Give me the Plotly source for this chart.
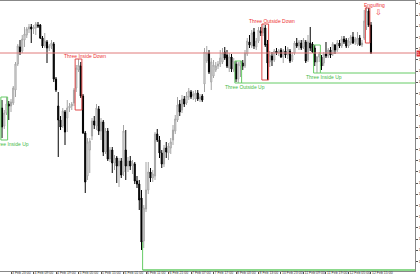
import plotly.graph_objects as go

# ---- OHLC data (H1 bars) ----
opens = [1.4692, 1.4674, 1.4687, 1.4696, 1.4694, 1.4697, 1.4710, 1.4736, 1.4753, 1.4749,
         1.4760, 1.4765, 1.4771, 1.4773, 1.4771, 1.4772, 1.4775, 1.4775, 1.4762, 1.4754,
         1.4758, 1.4752, 1.4754, 1.4756, 1.4721, 1.4694, 1.4680, 1.4674, 1.4688, 1.4682,
         1.4692, 1.4694, 1.4697, 1.4712, 1.4730, 1.4734, 1.4704, 1.4667, 1.4624, 1.4650,
         1.4664, 1.4679, 1.4674, 1.4691, 1.4669, 1.4678, 1.4648, 1.4669, 1.4641, 1.4650,
         1.4637, 1.4642, 1.4634, 1.4639, 1.4628, 1.4650, 1.4634, 1.4639, 1.4634, 1.4636,
         1.4619, 1.4616, 1.4602, 1.4559, 1.4591, 1.4610, 1.4628, 1.4622, 1.4624, 1.4666,
         1.4660, 1.4647, 1.4636, 1.4652, 1.4647, 1.4652, 1.4660, 1.4669, 1.4680, 1.4696,
         1.4690, 1.4701, 1.4697, 1.4703, 1.4708, 1.4704, 1.4701, 1.4707, 1.4701, 1.4704,
         1.4716, 1.4739, 1.4747, 1.4718, 1.4724, 1.4730, 1.4734, 1.4736, 1.4738, 1.4748,
         1.4745, 1.4732, 1.4743, 1.4730, 1.4736, 1.4721, 1.4734, 1.4737, 1.4734, 1.4746,
         1.4758, 1.4754, 1.4768, 1.4753, 1.4759, 1.4769, 1.4767, 1.4772, 1.4756, 1.4738,
         1.4744, 1.4740, 1.4749, 1.4747, 1.4750, 1.4743, 1.4749, 1.4745, 1.4749, 1.4740,
         1.4747, 1.4757, 1.4754, 1.4757, 1.4753, 1.4758, 1.4740, 1.4757, 1.4756, 1.4752,
         1.4738, 1.4743, 1.4743, 1.4737, 1.4746, 1.4744, 1.4750, 1.4746, 1.4755, 1.4750,
         1.4757, 1.4754, 1.4761, 1.4760, 1.4754, 1.4757, 1.4763, 1.4758, 1.4756, 1.4762,
         1.4755, 1.4762, 1.4773, 1.4789, 1.4775]

highs = [1.4700, 1.4690, 1.4703, 1.4699, 1.4701, 1.4714, 1.4738, 1.4756, 1.4760, 1.4765,
         1.4773, 1.4773, 1.4776, 1.4776, 1.4775, 1.4778, 1.4778, 1.4776, 1.4764, 1.4767,
         1.4760, 1.4756, 1.4760, 1.4758, 1.4723, 1.4708, 1.4684, 1.4692, 1.4690, 1.4700,
         1.4697, 1.4698, 1.4712, 1.4735, 1.4741, 1.4738, 1.4706, 1.4669, 1.4662, 1.4662,
         1.4682, 1.4684, 1.4696, 1.4694, 1.4682, 1.4680, 1.4672, 1.4672, 1.4653, 1.4653,
         1.4645, 1.4644, 1.4642, 1.4642, 1.4675, 1.4670, 1.4643, 1.4644, 1.4640, 1.4638,
         1.4624, 1.4620, 1.4610, 1.4595, 1.4638, 1.4638, 1.4632, 1.4630, 1.4668, 1.4671,
         1.4664, 1.4650, 1.4655, 1.4658, 1.4657, 1.4662, 1.4675, 1.4685, 1.4703, 1.4700,
         1.4705, 1.4704, 1.4708, 1.4712, 1.4710, 1.4709, 1.4710, 1.4710, 1.4706, 1.4706,
         1.4752, 1.4754, 1.4750, 1.4742, 1.4740, 1.4738, 1.4739, 1.4750, 1.4752, 1.4753,
         1.4750, 1.4747, 1.4746, 1.4742, 1.4739, 1.4738, 1.4739, 1.4740, 1.4750, 1.4762,
         1.4765, 1.4770, 1.4772, 1.4762, 1.4773, 1.4773, 1.4776, 1.4775, 1.4760, 1.4749,
         1.4748, 1.4751, 1.4752, 1.4751, 1.4752, 1.4751, 1.4754, 1.4753, 1.4751, 1.4748,
         1.4759, 1.4762, 1.4760, 1.4760, 1.4762, 1.4760, 1.4765, 1.4773, 1.4758, 1.4755,
         1.4744, 1.4748, 1.4745, 1.4748, 1.4758, 1.4752, 1.4753, 1.4758, 1.4756, 1.4760,
         1.4760, 1.4764, 1.4764, 1.4762, 1.4762, 1.4765, 1.4768, 1.4763, 1.4768, 1.4765,
         1.4760, 1.4790, 1.4793, 1.4792, 1.4778]

lows = [1.4662, 1.4671, 1.4685, 1.4680, 1.4688, 1.4695, 1.4703, 1.4734, 1.4745, 1.4747,
        1.4753, 1.4762, 1.4767, 1.4757, 1.4766, 1.4765, 1.4772, 1.4761, 1.4752, 1.4752,
        1.4737, 1.4749, 1.4751, 1.4718, 1.4708, 1.4643, 1.4670, 1.4672, 1.4655, 1.4668,
        1.4688, 1.4690, 1.4694, 1.4708, 1.4728, 1.4702, 1.4666, 1.4607, 1.4620, 1.4627,
        1.4660, 1.4671, 1.4670, 1.4665, 1.4660, 1.4644, 1.4646, 1.4639, 1.4638, 1.4627,
        1.4630, 1.4617, 1.4613, 1.4622, 1.4624, 1.4620, 1.4628, 1.4630, 1.4626, 1.4616,
        1.4612, 1.4590, 1.4550, 1.4552, 1.4588, 1.4606, 1.4618, 1.4618, 1.4620, 1.4658,
        1.4642, 1.4632, 1.4633, 1.4642, 1.4640, 1.4646, 1.4655, 1.4666, 1.4678, 1.4684,
        1.4687, 1.4693, 1.4695, 1.4700, 1.4701, 1.4700, 1.4698, 1.4699, 1.4698, 1.4698,
        1.4708, 1.4737, 1.4726, 1.4710, 1.4722, 1.4728, 1.4731, 1.4733, 1.4736, 1.4740,
        1.4732, 1.4728, 1.4728, 1.4728, 1.4718, 1.4717, 1.4723, 1.4730, 1.4732, 1.4744,
        1.4752, 1.4752, 1.4751, 1.4750, 1.4757, 1.4764, 1.4764, 1.4753, 1.4720, 1.4733,
        1.4734, 1.4738, 1.4745, 1.4744, 1.4742, 1.4737, 1.4742, 1.4741, 1.4737, 1.4738,
        1.4745, 1.4752, 1.4750, 1.4750, 1.4751, 1.4737, 1.4738, 1.4749, 1.4747, 1.4734,
        1.4727, 1.4738, 1.4730, 1.4734, 1.4742, 1.4742, 1.4742, 1.4744, 1.4746, 1.4748,
        1.4752, 1.4752, 1.4756, 1.4752, 1.4752, 1.4755, 1.4756, 1.4755, 1.4754, 1.4754,
        1.4753, 1.4760, 1.4770, 1.4773, 1.4746]

closes = [1.4673, 1.4687, 1.4696, 1.4694, 1.4698, 1.4712, 1.4736, 1.4754, 1.4748, 1.4761,
          1.4766, 1.4771, 1.4773, 1.4771, 1.4773, 1.4776, 1.4774, 1.4762, 1.4754, 1.4759,
          1.4752, 1.4754, 1.4757, 1.4721, 1.4710, 1.4680, 1.4673, 1.4689, 1.4668, 1.4692,
          1.4694, 1.4696, 1.4710, 1.4732, 1.4735, 1.4704, 1.4667, 1.4618, 1.4658, 1.4659,
          1.4679, 1.4675, 1.4692, 1.4669, 1.4678, 1.4648, 1.4669, 1.4641, 1.4650, 1.4637,
          1.4642, 1.4634, 1.4639, 1.4625, 1.4669, 1.4634, 1.4639, 1.4634, 1.4637, 1.4619,
          1.4616, 1.4600, 1.4558, 1.4592, 1.4610, 1.4628, 1.4622, 1.4626, 1.4666, 1.4660,
          1.4647, 1.4636, 1.4652, 1.4648, 1.4654, 1.4658, 1.4670, 1.4681, 1.4695, 1.4688,
          1.4701, 1.4696, 1.4704, 1.4709, 1.4703, 1.4706, 1.4707, 1.4701, 1.4703, 1.4700,
          1.4748, 1.4747, 1.4728, 1.4738, 1.4735, 1.4734, 1.4736, 1.4742, 1.4747, 1.4742,
          1.4734, 1.4743, 1.4731, 1.4738, 1.4721, 1.4736, 1.4738, 1.4734, 1.4747, 1.4759,
          1.4755, 1.4767, 1.4754, 1.4759, 1.4770, 1.4767, 1.4772, 1.4755, 1.4737, 1.4745,
          1.4740, 1.4749, 1.4747, 1.4749, 1.4743, 1.4749, 1.4745, 1.4751, 1.4739, 1.4745,
          1.4757, 1.4754, 1.4758, 1.4752, 1.4760, 1.4739, 1.4758, 1.4752, 1.4748, 1.4738,
          1.4743, 1.4746, 1.4734, 1.4746, 1.4744, 1.4750, 1.4745, 1.4756, 1.4750, 1.4757,
          1.4754, 1.4761, 1.4758, 1.4754, 1.4759, 1.4763, 1.4757, 1.4761, 1.4762, 1.4755,
          1.4757, 1.4779, 1.4789, 1.4775, 1.4747]

bars = list(range(len(closes)))

# ---- time axis labels ----
tick_bars = [4, 14, 24, 34, 44, 54, 64, 74, 84, 94, 104, 114, 124, 134, 144, 154, 164]
tick_labels = ["3 Feb 23:00", "4 Feb 09:00", "4 Feb 19:00", "5 Feb 05:00", "5 Feb 15:00",
               "6 Feb 01:00", "6 Feb 11:00", "6 Feb 21:00", "7 Feb 07:00", "7 Feb 17:00",
               "8 Feb 03:00", "8 Feb 13:00", "10 Feb 23:00", "11 Feb 09:00", "11 Feb 19:00",
               "12 Feb 05:00", "12 Feb 15:00"]

# ---- candlestick pattern markers ----
pat_names = ["Three Inside Up", "Three Inside Down", "Three Outside Up",
             "Three Outside Down", "Three Inside Up", "Engulfing"]
pat_start = [0, 33, 104, 116, 139, 162]
pat_end = [2, 35, 106, 118, 141, 163]
pat_top = [1.4703, 1.4741, 1.4739, 1.4776, 1.4755, 1.4792]
pat_bottom = [1.4660, 1.4690, 1.4717, 1.4720, 1.4727, 1.4757]
pat_bull = [True, False, True, False, True, False]
pat_extend = [False, False, True, False, True, False]

support_bar = 62.5
support_top = 1.4558
support_price = 1.4530
arrow_bar = 167.5
arrow_price = 1.4788

bid_price = closes[-1]

X_MIN, X_MAX = -0.89, 183.56
Y_MIN, Y_MAX = 1.4529, 1.4799

GREEN_LINE = "#66cc66"
GREEN_TEXT = "#44bb44"
RED_LINE = "#e04848"
RED_TEXT = "#ee3333"

fig = go.Figure(go.Candlestick(
    x=bars, open=opens, high=highs, low=lows, close=closes,
    increasing=dict(line=dict(color="#a4a4a4", width=1), fillcolor="white"),
    decreasing=dict(line=dict(color="black", width=1), fillcolor="black"),
    showlegend=False, hoverinfo="skip"))

shapes = []
annotations = []
for name, s, e, top, bot, bull, ext in zip(pat_names, pat_start, pat_end, pat_top,
                                           pat_bottom, pat_bull, pat_extend):
    lc = GREEN_LINE if bull else RED_LINE
    tc = GREEN_TEXT if bull else RED_TEXT
    shapes.append(dict(type="rect", xref="x", yref="y", x0=s - 0.5, x1=e + 0.5,
                       y0=bot, y1=top, line=dict(color=lc, width=1),
                       fillcolor="rgba(0,0,0,0)", layer="above"))
    if ext:
        shapes.append(dict(type="line", xref="x", yref="y", x0=e + 0.5, x1=X_MAX,
                           y0=bot, y1=bot, line=dict(color=lc, width=1)))
    ty = bot - 0.0004 if bull else top + 0.0003
    annotations.append(dict(x=(s + e) / 2 + 3, y=ty, xref="x", yref="y", text=name,
                            showarrow=False, xanchor="center", yanchor="middle",
                            font=dict(size=5, color=tc, family="Liberation Sans")))

# support line at the bottom
shapes.append(dict(type="line", xref="x", yref="y", x0=support_bar, x1=support_bar,
                   y0=support_top, y1=support_price, line=dict(color=GREEN_LINE, width=1)))
shapes.append(dict(type="line", xref="x", yref="y", x0=support_bar, x1=X_MAX,
                   y0=support_price, y1=support_price, line=dict(color=GREEN_LINE, width=1.5)))

# bid line
shapes.append(dict(type="line", xref="x", yref="y", x0=X_MIN, x1=X_MAX,
                   y0=bid_price, y1=bid_price, line=dict(color="#e07a7a", width=1)))

annotations.append(dict(x=1, y=bid_price, xref="paper", yref="y", text=f"{bid_price:.4f}",
                        showarrow=False, xanchor="left", yanchor="middle", xshift=1,
                        bgcolor="#e03030", borderpad=0,
                        font=dict(size=4, color="white", family="Liberation Sans")))

# sell arrow
annotations.append(dict(x=arrow_bar, y=arrow_price, xref="x", yref="y", text="⇩",
                        showarrow=False, xanchor="center", yanchor="middle",
                        font=dict(size=8, color=RED_TEXT, family="DejaVu Sans")))

fig.update_layout(
    width=420, height=280,
    margin=dict(l=0, r=5, t=1, b=9, pad=0),
    paper_bgcolor="white", plot_bgcolor="white",
    font=dict(family="Liberation Sans", size=4, color="black"),
    shapes=shapes, annotations=annotations,
    showlegend=False,
    xaxis=dict(range=[X_MIN, X_MAX], showgrid=False, zeroline=False,
               showline=True, linecolor="#888888", linewidth=1, mirror=True,
               ticks="outside", ticklen=2, tickcolor="#555555",
               tickvals=tick_bars, ticktext=tick_labels, tickangle=0,
               ticklabelposition="outside right", ticklabelstandoff=-2,
               tickfont=dict(size=3.5, color="#333333"),
               rangeslider=dict(visible=False), automargin=False, fixedrange=True),
    yaxis=dict(side="right", range=[Y_MIN, Y_MAX], showgrid=False, zeroline=False,
               showline=True, linecolor="#888888", linewidth=1,
               ticks="outside", ticklen=2, tickcolor="#555555",
               tick0=1.4785, dtick=0.00112, tickformat=".4f",
               tickfont=dict(size=3.5, color="#333333"), automargin=False, fixedrange=True),
)

fig.write_html("out.html")
